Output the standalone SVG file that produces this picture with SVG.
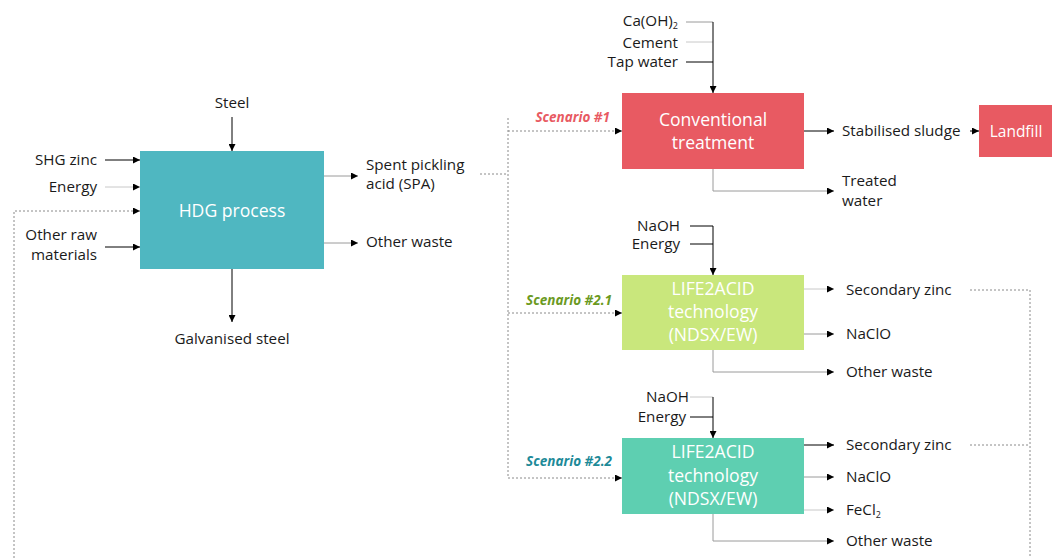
<svg xmlns="http://www.w3.org/2000/svg" width="1052" height="558" viewBox="0 0 1052 558">
<defs>
<marker id="ah" viewBox="0 0 10 10" refX="10" refY="5" markerWidth="7" markerHeight="7" markerUnits="userSpaceOnUse" orient="auto"><path d="M0,0 L10,5 L0,10 z" fill="#000"/></marker>
</defs>
<style>
text{font-family:"Open Sans","Liberation Sans",sans-serif;font-size:15.2px;fill:#1a1a1a}
.bt{fill:#fff;font-size:17.6px;text-anchor:middle}
.r{text-anchor:end}
.c{text-anchor:middle}
.sc{font-style:italic;font-weight:bold;font-size:13.5px;text-anchor:end}
.k{stroke:#000;stroke-width:1;fill:none}
.g{stroke:#9a9a9a;stroke-width:1;fill:none}
.lg{stroke:#c8c8c8;stroke-width:1;fill:none}
.d{stroke:#8a8a8a;stroke-width:1;fill:none;stroke-dasharray:2,2}
.a{marker-end:url(#ah)}
</style>
<rect width="1052" height="558" fill="#fff"/>
<g id="connectors">
<path class="k a" d="M232,117 V151"/>
<path class="k a" d="M105,160 H140"/>
<path class="lg a" d="M105,187 H140"/>
<path class="d a" d="M14,558 V211 H140"/>
<path class="k a" d="M105,247 H140"/>
<path class="k a" d="M232,269 V322"/>
<path class="g a" d="M324,176 H358"/>
<path class="g a" d="M324,243 H358"/>
<path class="d" d="M480,174 H508 M508,118 V478"/>
<path class="d a" d="M508,131 H622"/>
<path class="d a" d="M508,313 H622"/>
<path class="d a" d="M508,478 H622"/>
<path class="g" d="M686,22 H713"/>
<path class="lg" d="M686,42 H713"/>
<path class="k" d="M686,62 H713"/>
<path class="k a" d="M713,22 V93"/>
<path class="k a" d="M804,131 H834"/>
<path class="k a" d="M970,131 H979"/>
<path class="g a" d="M713,169 V191 H834"/>
<path class="k" d="M690,226 H713 M690,244 H713"/>
<path class="k a" d="M713,226 V275"/>
<path class="lg a" d="M804,289 H834"/>
<path class="g a" d="M804,334 H834"/>
<path class="g a" d="M713,350 V372 H834"/>
<path class="d" d="M970,290 H1030 V558"/>
<path class="lg" d="M690,397 H713"/>
<path class="k" d="M690,417 H713"/>
<path class="k a" d="M713,397 V438"/>
<path class="k a" d="M804,445 H834"/>
<path class="g a" d="M804,477 H834"/>
<path class="lg a" d="M804,510 H834"/>
<path class="g a" d="M713,514 V541 H834"/>
<path class="d" d="M970,445 H1030"/>
</g>
<g id="hdg">
<rect x="140" y="151" width="184" height="118" fill="#4fb7c1"/>
<text class="bt" x="232" y="217">HDG process</text>
</g>
<g id="hdg-labels">
<text class="c" x="232" y="108">Steel</text>
<text class="r" x="97" y="165">SHG zinc</text>
<text class="r" x="97" y="192">Energy</text>
<text class="r" x="97" y="240">Other raw</text>
<text class="r" x="97" y="260">materials</text>
<text class="c" x="232" y="344">Galvanised steel</text>
<text x="366" y="170">Spent pickling</text>
<text x="366" y="189">acid (SPA)</text>
<text x="366" y="247">Other waste</text>
</g>
<g id="conventional">
<rect x="622" y="93" width="182" height="76" fill="#e85a62"/>
<text class="bt" x="713" y="126">Conventional</text>
<text class="bt" x="713" y="149">treatment</text>
<text class="sc" x="610" y="122" style="fill:#e85a62">Scenario #1</text>
<text class="r" x="678" y="25.5">Ca(OH)<tspan font-size="9" dy="3">2</tspan></text>
<text class="r" x="678" y="48">Cement</text>
<text class="r" x="678" y="67">Tap water</text>
<text x="842" y="136">Stabilised sludge</text>
<text x="842" y="186">Treated</text>
<text x="842" y="206">water</text>
</g>
<g id="landfill">
<rect x="979" y="105" width="73" height="52" fill="#e85a62"/>
<text class="bt" x="1016" y="137" style="font-size:15.5px">Landfill</text>
</g>
<g id="life21">
<rect x="622" y="275" width="182" height="75" fill="#c9e77c"/>
<text class="bt" x="713" y="295">LIFE2ACID</text>
<text class="bt" x="713" y="318">technology</text>
<text class="bt" x="713" y="341">(NDSX/EW)</text>
<text class="sc" x="612" y="305" style="fill:#6b9a22">Scenario #2.1</text>
<text class="r" x="680" y="231">NaOH</text>
<text class="r" x="680" y="249">Energy</text>
<text x="846" y="295">Secondary zinc</text>
<text x="846" y="339">NaClO</text>
<text x="846" y="377">Other waste</text>
</g>
<g id="life22">
<rect x="622" y="438" width="182" height="76" fill="#5ecfb1"/>
<text class="bt" x="713" y="458">LIFE2ACID</text>
<text class="bt" x="713" y="482">technology</text>
<text class="bt" x="713" y="505">(NDSX/EW)</text>
<text class="sc" x="612" y="466" style="fill:#1d8a98">Scenario #2.2</text>
<text class="r" x="689" y="402">NaOH</text>
<text class="r" x="686" y="422">Energy</text>
<text x="846" y="450">Secondary zinc</text>
<text x="846" y="482">NaClO</text>
<text x="846" y="515">FeCl<tspan font-size="9" dy="3">2</tspan></text>
<text x="846" y="546">Other waste</text>
</g>
</svg>
